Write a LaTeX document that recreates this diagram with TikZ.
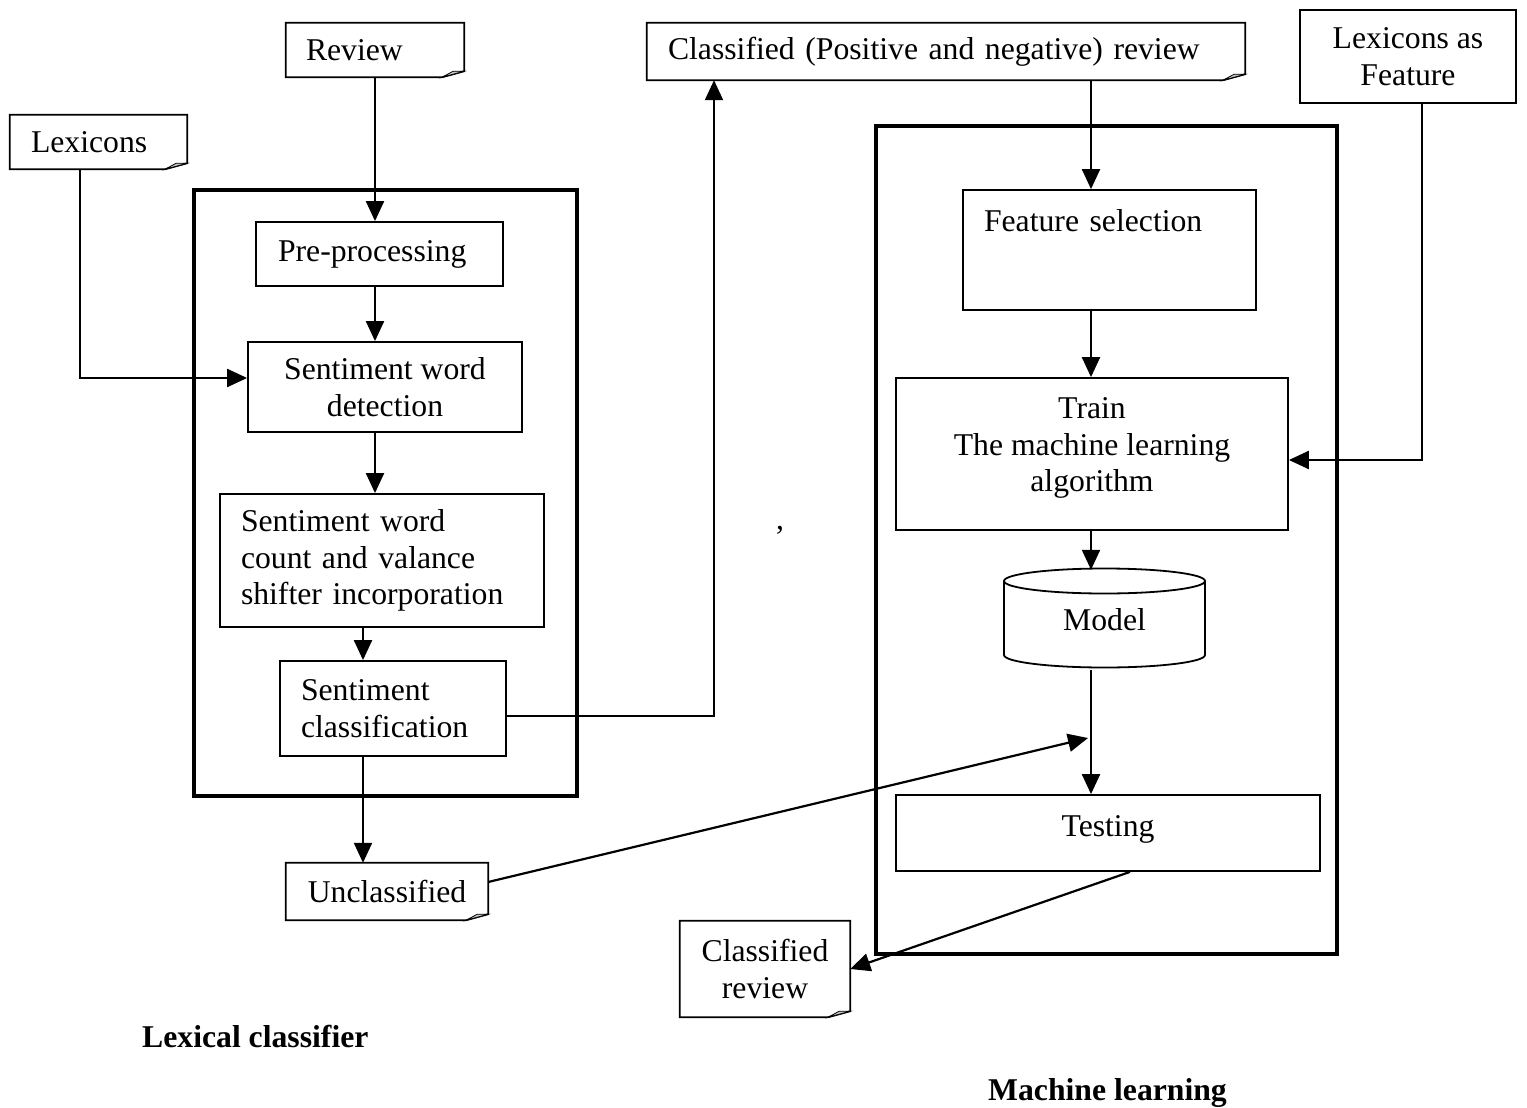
\documentclass[tikz,border=0pt]{standalone}
\usepackage{fontspec}
\setmainfont{Liberation Serif}
\usetikzlibrary{arrows.meta}
\newcommand\dfont{\fontsize{31.7}{36.5}\selectfont}
\newcommand\docoutline[1]{%
  \draw[line width=1.8pt, line join=miter] (#1.north west) -- (#1.north east) -- ([yshift=6pt]#1.south east) -- ([xshift=-22pt]#1.south east) -- (#1.south west) -- cycle;
  \filldraw[fill=gray!45, line width=0.8pt] ([xshift=-22pt]#1.south east) -- ([xshift=-11pt,yshift=6pt]#1.south east) -- ([yshift=6pt]#1.south east) -- cycle;}
\tikzset{
  box/.style={draw, line width=1.8pt, inner sep=0pt, font=\dfont, align=center},
  lbox/.style={box, align=left},
  doc/.style={inner sep=0pt, font=\dfont, align=left},
  big/.style={draw, line width=3.5pt, inner sep=0pt},
  arr/.style={line width=2.2pt, -{Triangle[length=20pt,width=18pt]}},
  lbl/.style={font=\dfont\bfseries, inner sep=0pt, anchor=west}
}
\begin{document}
\begin{tikzpicture}[x=1pt, y=-1pt]
\useasboundingbox (0,0) rectangle (1527,1108);
% documents
\node[doc, minimum width=178pt, minimum height=54pt, inner xsep=20pt, text width=138pt] (review) at (375,50) {Review};
\docoutline{review}
\node[doc, minimum width=177pt, minimum height=54pt, inner xsep=21pt, text width=135pt] (lex) at (98.5,142) {Lexicons};
\docoutline{lex}
\node[doc, minimum width=598pt, minimum height=57pt, inner xsep=21pt, text width=556pt] (classpos) at (946,51.5) {Classified (Positive and negative) review};
\docoutline{classpos}
\node[doc, align=center, minimum width=202pt, minimum height=57pt] (unc) at (387,891.5) {Unclassified};
\docoutline{unc}
\node[doc, align=center, minimum width=170pt, minimum height=96pt] (cr) at (765,969) {Classified\\review};
\docoutline{cr}
\node[box, minimum width=216pt, minimum height=93pt] (lexfeat) at (1408,56.5) {Lexicons as\\Feature};
% big boxes
\node[big, minimum width=383pt, minimum height=606pt] (lexbox) at (385.5,493) {};
\node[big, minimum width=461pt, minimum height=828pt] (mlbox) at (1106.5,540) {};
% lexical steps
\node[lbox, minimum width=247pt, minimum height=64pt, inner xsep=22pt, text width=203pt] (prep) at (379.5,254) {Pre-processing};
\node[box, minimum width=274pt, minimum height=90pt] (swd) at (385,387) {Sentiment word\\detection};
\node[lbox, minimum width=324pt, minimum height=133pt, inner xsep=21pt, text width=282pt] (swc) at (382,560.5) {Sentiment word\\count and valance\\shifter incorporation};
\node[lbox, minimum width=226pt, minimum height=95pt, inner xsep=21pt, text width=184pt] (sc) at (393,708.5) {Sentiment\\classification};
% ML steps
\node[lbox, minimum width=293pt, minimum height=120pt, inner xsep=21pt, text width=251pt] (fs) at (1109.5,250) {Feature selection\\[21.5pt]\mbox{}};
\node[box, minimum width=392pt, minimum height=152pt] (train) at (1092,454) {Train\\The machine learning\\algorithm\\[-18.5pt]};
\draw[line width=1.8pt, fill=white] (1004,581) -- (1004,655) arc[start angle=180, end angle=360, x radius=100.5pt, y radius=12.5pt] -- (1205,581);
\draw[line width=1.8pt] (1104.5,581) ellipse [x radius=100.5pt, y radius=12.5pt];
\node[inner sep=0pt, minimum width=201pt, minimum height=100pt, font=\dfont] (model) at (1104.5,620) {Model};
\node[box, minimum width=424pt, minimum height=76pt] (test) at (1108,833) {Testing\\[-22.5pt]};
% labels
\node[lbl] (lexlbl) at (142,1036) {Lexical classifier};
\node[lbl] (mllbl) at (988,1093) {Machine learning};
\node[font=\dfont, inner sep=0pt] (comma) at (780,530) {,};
% coordinates
\coordinate (join) at (1091,738);
% connectors
\draw[arr] (review.south) -- (review.south |- prep.north);
\draw[arr] ([xshift=-18.5pt]lex.south) |- ([yshift=9pt]swd.west);
\draw[arr] (review.south |- prep.south) -- (review.south |- swd.north);
\draw[arr] (review.south |- swd.south) -- (review.south |- swc.north);
\draw[arr] ([xshift=-19pt]swc.south) -- ([xshift=-19pt]swc.south |- sc.north);
\draw[arr] ([yshift=-7.5pt]sc.east) -| ([xshift=-232pt]classpos.south);
\draw[arr] ([xshift=-30pt]sc.south) -- ([xshift=-30pt]sc.south |- unc.north);
\draw[arr] ([yshift=9.5pt]unc.east) -- ([xshift=-3pt]join);
\draw[arr] (classpos.south -| join) -- (fs.north -| join);
\draw[arr] (fs.south -| join) -- (train.north -| join);
\draw[arr] ([xshift=14pt]lexfeat.south) |- ([yshift=-6pt]train.east);
\draw[arr] (train.south -| join) -- (model.north -| join);
\draw[arr] (model.south -| join) -- (test.north -| join);
\draw[arr] ([xshift=22pt]test.south) -- (cr.east);
\end{tikzpicture}
\end{document}
